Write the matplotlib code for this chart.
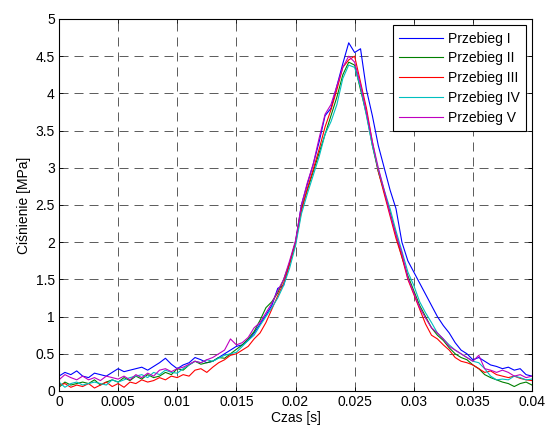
import matplotlib
matplotlib.use("Agg")
import matplotlib.pyplot as plt
import numpy as np

plt.rcParams['font.family'] = ['Liberation Sans', 'DejaVu Sans']
plt.rcParams['lines.scale_dashes'] = False

time_step = 0.0005
n_points = 81

przebieg_1 = [0.2, 0.25, 0.22, 0.27, 0.2, 0.18, 0.24, 0.22, 0.2, 0.25, 0.3,
              0.26, 0.28, 0.3, 0.32, 0.28, 0.33, 0.38, 0.44, 0.36, 0.3,
              0.35, 0.38, 0.45, 0.42, 0.38, 0.4, 0.45, 0.5, 0.55, 0.6,
              0.62, 0.68, 0.78, 0.9, 1.02, 1.15, 1.38, 1.42, 1.72, 2.0,
              2.5, 2.78, 3.05, 3.35, 3.7, 3.8, 4.1, 4.4, 4.68, 4.55,
              4.6, 4.05, 3.7, 3.3, 3.0, 2.7, 2.45, 2.0, 1.75, 1.6,
              1.45, 1.3, 1.15, 1.0, 0.88, 0.78, 0.65, 0.55, 0.5, 0.42,
              0.45, 0.4, 0.35, 0.33, 0.3, 0.32, 0.28, 0.3, 0.22, 0.2]
przebieg_2 = [0.05, 0.12, 0.08, 0.1, 0.12, 0.1, 0.15, 0.08, 0.12, 0.15, 0.12,
              0.18, 0.14, 0.2, 0.16, 0.22, 0.18, 0.2, 0.25, 0.22, 0.3,
              0.28, 0.35, 0.4, 0.36, 0.38, 0.4, 0.45, 0.44, 0.5, 0.56,
              0.62, 0.7, 0.8, 0.95, 1.12, 1.2, 1.32, 1.5, 1.72, 2.0,
              2.45, 2.7, 2.95, 3.2, 3.45, 3.7, 3.95, 4.25, 4.42, 4.38,
              4.05, 3.72, 3.3, 2.95, 2.68, 2.4, 2.1, 1.8, 1.55, 1.35,
              1.15, 1.0, 0.85, 0.75, 0.68, 0.58, 0.5, 0.45, 0.42, 0.35,
              0.3, 0.22, 0.18, 0.15, 0.12, 0.1, 0.06, 0.1, 0.12, 0.08]
przebieg_3 = [0.08, 0.1, 0.05, 0.08, 0.06, 0.1, 0.04, 0.08, 0.12, 0.06, 0.1,
              0.05, 0.12, 0.1, 0.15, 0.12, 0.14, 0.18, 0.15, 0.2, 0.18,
              0.22, 0.2, 0.28, 0.3, 0.25, 0.32, 0.38, 0.42, 0.48, 0.5,
              0.55, 0.6, 0.7, 0.78, 0.92, 1.1, 1.28, 1.45, 1.7, 1.98,
              2.42, 2.72, 2.98, 3.25, 3.55, 3.78, 4.05, 4.35, 4.45, 4.5,
              4.15, 3.8, 3.35, 2.95, 2.65, 2.35, 2.05, 1.8, 1.5, 1.3,
              1.1, 0.9, 0.75, 0.7, 0.62, 0.55, 0.45, 0.4, 0.38, 0.35,
              0.3, 0.25, 0.27, 0.22, 0.2, 0.18, 0.2, 0.17, 0.15, 0.14]
przebieg_4 = [0.12, 0.05, 0.1, 0.12, 0.08, 0.1, 0.12, 0.1, 0.08, 0.15, 0.12,
              0.15, 0.18, 0.2, 0.22, 0.18, 0.25, 0.22, 0.28, 0.25, 0.24,
              0.3, 0.35, 0.4, 0.38, 0.42, 0.4, 0.44, 0.48, 0.5, 0.52,
              0.6, 0.68, 0.75, 0.88, 1.0, 1.12, 1.25, 1.42, 1.65, 1.95,
              2.38, 2.65, 2.9, 3.15, 3.45, 3.62, 3.85, 4.2, 4.38, 4.35,
              4.08, 3.7, 3.3, 2.98, 2.7, 2.45, 2.15, 1.88, 1.6, 1.42,
              1.2, 1.05, 0.92, 0.78, 0.7, 0.62, 0.55, 0.5, 0.45, 0.4,
              0.38, 0.3, 0.2, 0.15, 0.16, 0.15, 0.2, 0.18, 0.15, 0.16]
przebieg_5 = [0.15, 0.22, 0.18, 0.15, 0.2, 0.15, 0.18, 0.14, 0.2, 0.18, 0.16,
              0.2, 0.15, 0.22, 0.18, 0.24, 0.2, 0.28, 0.3, 0.26, 0.3,
              0.32, 0.36, 0.4, 0.38, 0.42, 0.45, 0.5, 0.55, 0.7, 0.62,
              0.65, 0.72, 0.85, 0.92, 1.05, 1.18, 1.35, 1.5, 1.75, 2.02,
              2.5, 2.8, 3.05, 3.4, 3.72, 3.85, 4.1, 4.35, 4.5, 4.42,
              4.12, 3.75, 3.35, 3.0, 2.7, 2.38, 2.1, 1.85, 1.52, 1.32,
              1.12, 0.98, 0.85, 0.78, 0.7, 0.6, 0.55, 0.5, 0.45, 0.4,
              0.48, 0.3, 0.28, 0.25, 0.28, 0.25, 0.2, 0.22, 0.18, 0.2]

labels = ['Przebieg I', 'Przebieg II', 'Przebieg III', 'Przebieg IV', 'Przebieg V']
colors = ['#0000ff', '#008000', '#ff0000', '#00bfbf', '#bf00bf']
series = [przebieg_1, przebieg_2, przebieg_3, przebieg_4, przebieg_5]

xticks = [0, 0.005, 0.01, 0.015, 0.02, 0.025, 0.03, 0.035, 0.04]
xtick_labels = ['0', '0.005', '0.01', '0.015', '0.02', '0.025', '0.03', '0.035', '0.04']
yticks = [0, 0.5, 1, 1.5, 2, 2.5, 3, 3.5, 4, 4.5, 5]
ytick_labels = ['0', '0.5', '1', '1.5', '2', '2.5', '3', '3.5', '4', '4.5', '5']

t = np.arange(n_points) * time_step

fig = plt.figure(figsize=(5.47, 4.28), dpi=100)
ax = fig.add_axes([59/547, 1 - 391/428, (532-59)/547, (391-19)/428])

for y, c, lab in zip(series, colors, labels):
    ax.plot(t, y, color=c, lw=0.8, label=lab)

ax.set_xlim(0, 0.04)
ax.set_ylim(0, 5)
ax.set_xticks(xticks)
ax.set_xticklabels(xtick_labels)
ax.set_yticks(yticks)
ax.set_yticklabels(ytick_labels)
ax.tick_params(direction='in', top=True, right=True, length=3, width=0.6, labelsize=10, pad=3)
ax.grid(True, color='k', lw=0.6, linestyle=(0, (6.5, 4.3)), alpha=0.75)
for s in ax.spines.values():
    s.set_linewidth(0.8)
ax.set_xlabel('Czas [s]', fontsize=10, labelpad=1)
ax.set_ylabel('Ciśnienie [MPa]', fontsize=10, labelpad=3)

leg = ax.legend(loc='upper right', fontsize=10, fancybox=False, edgecolor='k',
                framealpha=1, handlelength=3.2, handletextpad=0.3, borderpad=0.45,
                borderaxespad=0.45, labelspacing=0.42)
leg.get_frame().set_linewidth(0.8)

fig.savefig('out.png', dpi=100)
